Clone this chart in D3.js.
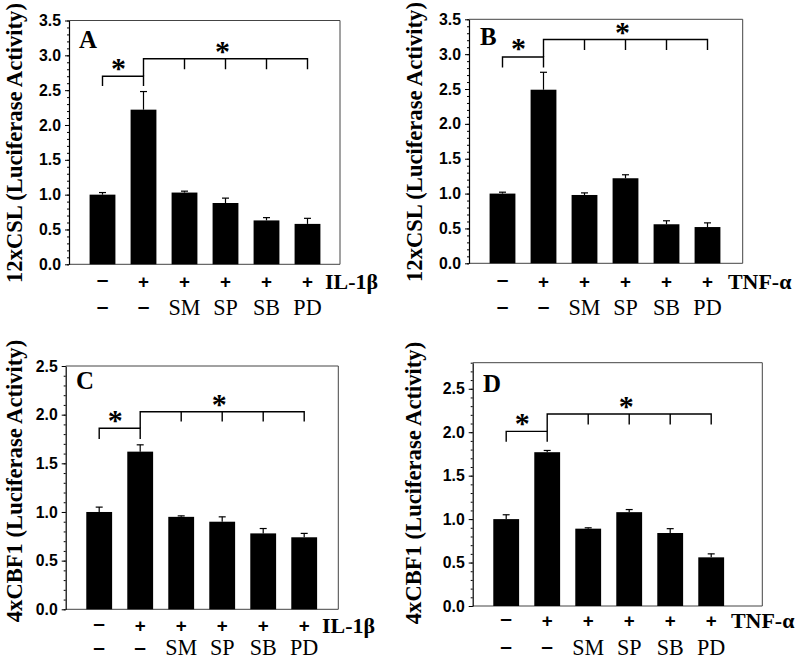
<!DOCTYPE html>
<html>
<head>
<meta charset="utf-8">
<script src="https://cdn.jsdelivr.net/npm/d3@7"></script>
<style>
  html, body { margin: 0; padding: 0; background: #fff; }
  svg { display: block; }
</style>
</head>
<body>
<svg id="chart" width="800" height="660"></svg>
<script>
// ---------- data ----------
const treatRow = ["\u2013", "+", "+", "+", "+", "+"];
const inhibRow = ["\u2013", "\u2013", "SM", "SP", "SB", "PD"];
const panelLetters = ["A", "B", "C", "D"];
const stimuli = ["IL-1\u03B2", "TNF-\u03B1", "IL-1\u03B2", "TNF-\u03B1"];
const yTitles = ["12xCSL (Luciferase Activity)", "12xCSL (Luciferase Activity)",
                 "4xCBF1 (Luciferase Activity)", "4xCBF1 (Luciferase Activity)"];
const yMaxes = [3.5, 3.5, 2.5, 2.8];
const yTickLabelsAB = ["0.0", "0.5", "1.0", "1.5", "2.0", "2.5", "3.0", "3.5"];
const yTickLabelsCD = ["0.0", "0.5", "1.0", "1.5", "2.0", "2.5"];

const valuesA = [1.00, 2.22, 1.03, 0.88, 0.63, 0.58];
const errorsA = [0.03, 0.26, 0.02, 0.07, 0.04, 0.08];
const valuesB = [1.00, 2.49, 0.98, 1.22, 0.56, 0.52];
const errorsB = [0.02, 0.25, 0.03, 0.05, 0.05, 0.06];
const valuesC = [1.00, 1.62, 0.95, 0.90, 0.78, 0.74];
const errorsC = [0.05, 0.07, 0.01, 0.05, 0.05, 0.04];
const valuesD = [1.00, 1.77, 0.89, 1.08, 0.84, 0.56];
const errorsD = [0.05, 0.02, 0.01, 0.03, 0.05, 0.04];

// significance brackets: [top, leg bottom] in data units
const bracket1 = [[2.70, 2.56], [2.96, 2.81], [1.86, 1.75], [2.01, 1.89]];
const bracket2 = [[2.95, 2.80], [3.21, 3.06], [2.03, 1.93], [2.21, 2.09]];

// ---------- layout ----------
const frames = [
  {l: 69,    t: 20.5,  r: 340,   b: 264.3},
  {l: 469,   t: 19.3,  r: 742.7, b: 263.3},
  {l: 65.7,  t: 366,   r: 338.3, b: 609.3},
  {l: 472.7, t: 362.7, r: 762.3, b: 606}
];
const titlePos = [[14, 143], [414, 142], [14, 481], [413, 483]];
const letterPos = [[79, 48], [480, 45], [76, 389], [483, 392]];
const stimX = [325, 728, 322, 731];
const row1Y = [281, 281, 625, 620];
const row2Base = [315, 315, 655, 655];
const dash2Y = [308, 308, 649, 648];

const allValues = [valuesA, valuesB, valuesC, valuesD];
const allErrors = [errorsA, errorsB, errorsC, errorsD];
const tickLabelSets = [yTickLabelsAB, yTickLabelsAB, yTickLabelsCD, yTickLabelsCD];

const svg = d3.select("#chart");
const serif = "'Liberation Serif', 'Times New Roman', Times, serif";
const sans = "'Liberation Sans', Arial, Helvetica, sans-serif";

// font size giving a sample string a target rendered width
function fitSize(str, family, weight, target) {
  const t = svg.append("text").text(str)
    .style("font-family", family).style("font-weight", weight).style("font-size", "20px");
  const w = t.node().getComputedTextLength();
  t.remove();
  return w > 0 ? 20 * target / w : 20;
}
const tickSize = fitSize("3.5", sans, "bold", 22);
const titleSize = fitSize("12xCSL (Luciferase Activity)", serif, "bold", 280);
const stimSize = fitSize("IL-1\u03B2", serif, "bold", 53);
const row2Size = fitSize("SM", serif, "normal", 32);
const letterSize = fitSize("A", serif, "bold", 18);
const plusSize = fitSize("+", sans, "bold", 11);
const dashSize = 21;

frames.forEach((f, p) => {
  const g = svg.append("g");
  const vals = allValues[p], errs = allErrors[p];
  const y = d3.scaleLinear().domain([0, yMaxes[p]]).range([f.b, f.t]);
  const x = d3.scaleBand().domain(d3.range(6))
    .range([f.l + 13, f.l + 13 + 246]).paddingInner(0.37).paddingOuter(0.185);
  const cx = i => x(i) + x.bandwidth() / 2;

  // frame (top/right/bottom)
  g.append("path")
    .attr("d", `M${f.l},${f.t}H${f.r}V${f.b}H${f.l}`)
    .attr("fill", "none").attr("stroke", "#444").attr("stroke-width", 1);

  // minor ticks
  const minor = d3.range(0, Math.round(yMaxes[p] * 10) + 1).map(d => d / 10);
  const yAxisMinor = d3.axisLeft(y).tickValues(minor).tickSize(2).tickFormat("");
  g.append("g").attr("transform", `translate(${f.l},0)`).call(yAxisMinor)
    .call(s => s.select(".domain").remove())
    .call(s => s.selectAll("line").attr("stroke", "#000"));

  // major axis
  const labels = tickLabelSets[p];
  const majors = labels.map(Number);
  const yAxis = d3.axisLeft(y).tickValues(majors).tickSize(4).tickSizeOuter(0)
    .tickPadding(4).tickFormat((d, i) => labels[i]);
  const ax = g.append("g").attr("transform", `translate(${f.l},0)`).call(yAxis);
  ax.select(".domain").attr("stroke", "#000").attr("stroke-width", 1.2);
  ax.selectAll("line").attr("stroke", "#000");
  ax.selectAll("text").style("font-family", sans).style("font-weight", "bold")
    .style("font-size", tickSize + "px").attr("fill", "#000");

  // bars
  g.selectAll("rect.bar").data(vals).join("rect").attr("class", "bar")
    .attr("x", (d, i) => x(i)).attr("width", x.bandwidth())
    .attr("y", d => y(d)).attr("height", d => f.b - y(d))
    .attr("fill", "#000");

  // error bars (upper only)
  const eg = g.append("g").attr("stroke", "#000").attr("stroke-width", 1.2);
  vals.forEach((v, i) => {
    eg.append("line").attr("x1", cx(i)).attr("x2", cx(i))
      .attr("y1", y(v)).attr("y2", y(v + errs[i]));
    eg.append("line").attr("x1", cx(i) - 3.5).attr("x2", cx(i) + 3.5)
      .attr("y1", y(v + errs[i])).attr("y2", y(v + errs[i]));
  });

  // significance brackets
  const bg = g.append("g").attr("stroke", "#000").attr("stroke-width", 1.4).attr("fill", "none");
  const [t1, l1] = bracket1[p];
  const [t2, l2] = bracket2[p];
  bg.append("path").attr("d",
    `M${cx(0)},${y(l1)}V${y(t1)}H${cx(1)}V${y(l1)}`);
  bg.append("path").attr("d",
    `M${cx(1)},${y(t1)}V${y(t2)}H${cx(5)}V${y(l2)}` +
    [2, 3, 4].map(i => `M${cx(i)},${y(t2)}V${y(l2)}`).join(""));
  const star = (sx, sy) => g.append("text").text("*")
    .attr("x", sx).attr("y", sy + 13).attr("text-anchor", "middle")
    .style("font-family", serif).style("font-weight", "bold").style("font-size", "30px");
  star((cx(0) + cx(1)) / 2 - 4.5, y(t1) - 11.5);
  star((cx(1) + cx(5)) / 2 - 3, y(t2) - 10.5);

  // panel letter
  g.append("text").text(panelLetters[p])
    .attr("x", letterPos[p][0]).attr("y", letterPos[p][1])
    .style("font-family", serif).style("font-weight", "bold").style("font-size", letterSize + "px");

  // y title
  g.append("text").text(yTitles[p])
    .attr("transform", `translate(${titlePos[p][0]},${titlePos[p][1]}) rotate(-90)`)
    .attr("text-anchor", "middle").attr("dominant-baseline", "central")
    .style("font-family", serif).style("font-weight", "bold").style("font-size", titleSize + "px");

  // category rows
  const isDash = d => d === "\u2013";
  g.selectAll("text.r1").data(treatRow).join("text").attr("class", "r1")
    .text(d => d).attr("x", (d, i) => cx(i))
    .attr("y", d => isDash(d) ? row1Y[p] + 0.255 * dashSize : row1Y[p])
    .attr("text-anchor", "middle")
    .attr("dominant-baseline", d => isDash(d) ? "auto" : "central")
    .style("font-family", sans).style("font-weight", "bold")
    .style("font-size", d => (isDash(d) ? dashSize : plusSize) + "px");
  g.selectAll("text.r2").data(inhibRow).join("text").attr("class", "r2")
    .text(d => d).attr("x", (d, i) => cx(i))
    .attr("y", d => isDash(d) ? dash2Y[p] + 0.255 * dashSize : row2Base[p])
    .attr("text-anchor", "middle")
    .style("font-family", d => isDash(d) ? sans : serif)
    .style("font-weight", d => isDash(d) ? "bold" : "normal")
    .style("font-size", d => (isDash(d) ? dashSize : row2Size) + "px");
  g.append("text").text(stimuli[p])
    .attr("x", stimX[p]).attr("y", row1Y[p])
    .attr("dominant-baseline", "central")
    .style("font-family", serif).style("font-weight", "bold").style("font-size", stimSize + "px");
});
</script>
</body>
</html>
